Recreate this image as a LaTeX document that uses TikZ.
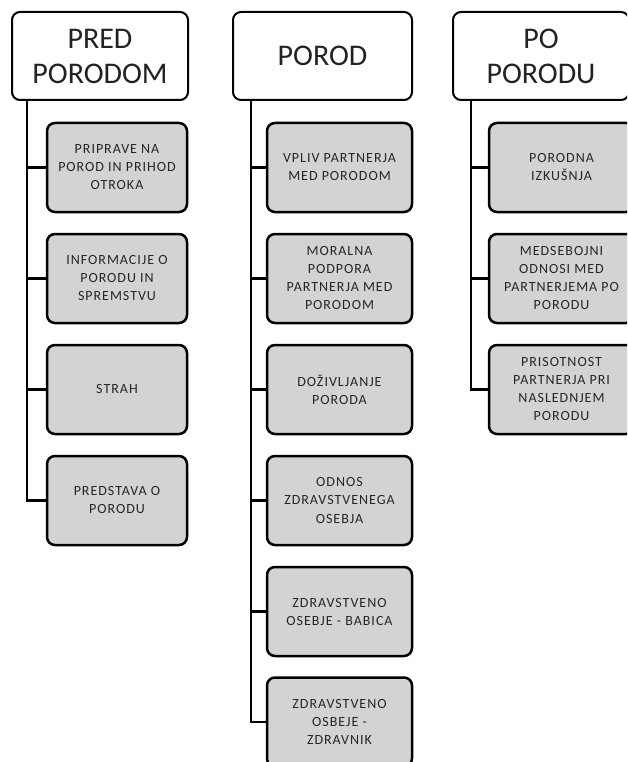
\documentclass[tikz,border=0pt]{standalone}
\usepackage{fontspec}
\setmainfont{Carlito}
\newfontfamily\childfont[LetterSpace=7]{Carlito}
\definecolor{boxgray}{HTML}{D3D3D3}
\definecolor{txtdark}{HTML}{222222}
\definecolor{txtchild}{HTML}{262626}
\begin{document}
\begin{tikzpicture}[x=1pt,y=-1pt,
  headbox/.style={draw=black, line width=2pt, rounded corners=8pt, fill=white,
    minimum height=88pt, inner sep=0pt, align=center, text=txtdark,
    font=\fontsize{30}{35}\selectfont},
  childbox/.style={draw=black, line width=2.5pt, rounded corners=8pt, fill=boxgray,
    minimum height=89pt, inner sep=0pt, align=center, text=txtchild,
    font=\childfont\fontsize{14}{18}\selectfont},
  conn/.style={draw=black, line width=2.5pt}]
\useasboundingbox (0,0) rectangle (627,762);
\clip (0,0) rectangle (627,762);

% headers
\node[headbox, minimum width=176pt] (h1) at (100,56) {PRED\\PORODOM};
\node[headbox, minimum width=179pt] (h2) at (322.5,56) {POROD};
\node[headbox, minimum width=176pt] (h3) at (541,56) {PO\\PORODU};

% column 1
\node[childbox, minimum width=140pt] (a1) at (117,167.5) {PRIPRAVE NA\\POROD IN PRIHOD\\OTROKA};
\node[childbox, minimum width=140pt] (a2) at (117,278.5) {INFORMACIJE O\\PORODU IN\\SPREMSTVU};
\node[childbox, minimum width=140pt] (a3) at (117,389.5) {STRAH};
\node[childbox, minimum width=140pt] (a4) at (117,500.5) {PREDSTAVA O\\PORODU};

% column 2
\node[childbox, minimum width=145pt] (b1) at (339.5,167.5) {VPLIV PARTNERJA\\MED PORODOM};
\node[childbox, minimum width=145pt] (b2) at (339.5,278.5) {MORALNA\\PODPORA\\PARTNERJA MED\\PORODOM};
\node[childbox, minimum width=145pt] (b3) at (339.5,389.5) {DOŽIVLJANJE\\PORODA};
\node[childbox, minimum width=145pt] (b4) at (339.5,500.5) {ODNOS\\ZDRAVSTVENEGA\\OSEBJA};
\node[childbox, minimum width=145pt] (b5) at (339.5,611.5) {ZDRAVSTVENO\\OSEBJE - BABICA};
\node[childbox, minimum width=145pt] (b6) at (339.5,722) {ZDRAVSTVENO\\OSBEJE -\\ZDRAVNIK};

% column 3
\node[childbox, minimum width=145pt] (c1) at (561.5,167.5) {PORODNA\\IZKUŠNJA};
\node[childbox, minimum width=145pt] (c2) at (561.5,278.5) {MEDSEBOJNI\\ODNOSI MED\\PARTNERJEMA PO\\PORODU};
\node[childbox, minimum width=145pt] (c3) at (561.5,389.5) {PRISOTNOST\\PARTNERJA PRI\\NASLEDNJEM\\PORODU};

% connectors
\foreach \n in {a1,a2,a3,a4}
  \draw[conn] ([xshift=16pt]h1.south west) |- (\n.west);
\foreach \n in {b1,b2,b3,b4,b5,b6}
  \draw[conn] ([xshift=19pt]h2.south west) |- (\n.west);
\foreach \n in {c1,c2,c3}
  \draw[conn] ([xshift=19pt]h3.south west) |- (\n.west);
\end{tikzpicture}
\end{document}
